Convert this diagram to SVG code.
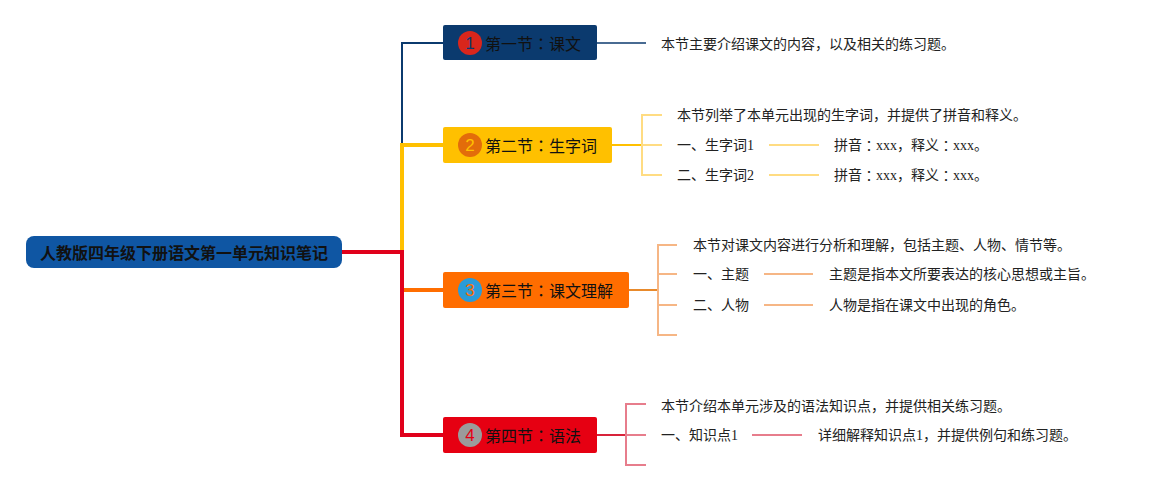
<svg xmlns="http://www.w3.org/2000/svg" width="1155" height="490" viewBox="0 0 1155 490">
<style>
.t{font-family:"Liberation Serif","Noto Sans CJK SC",serif;font-size:14px;fill:#222;dominant-baseline:central}
.n{font-family:"Noto Sans CJK SC",sans-serif;font-size:16px;fill:#111;dominant-baseline:central}
.num{font-family:"Liberation Sans",sans-serif;font-size:17px;text-anchor:middle;dominant-baseline:central}
.root{font-family:"Noto Sans CJK SC",sans-serif;font-size:16px;font-weight:bold;fill:#111;dominant-baseline:central}
.col{font-family:"Noto Sans CJK TC",sans-serif}
</style>
<rect width="1155" height="490" fill="#fff"/>
<g id="connectors">
<polyline points="402,252 402,43 443,43" stroke="#0b3a6e" stroke-width="2" fill="none"/>
<polyline points="402,252 402,145 443,145" stroke="#ffc000" stroke-width="4" fill="none"/>
<polyline points="402,252 402,290 443,290" stroke="#ff6d00" stroke-width="4" fill="none"/>
<polyline points="342,252 402,252 402,435 443,435" stroke="#e0001b" stroke-width="4" fill="none"/>
<line x1="597" y1="43" x2="646" y2="43" stroke="#0b3a6e" stroke-width="1.5"/>
<line x1="612" y1="145" x2="642" y2="145" stroke="#ffc000" stroke-width="2"/>
<g stroke="#ffdc82" stroke-width="2" fill="none">
<polyline points="662,115 642,115 642,175 662,175"/>
<line x1="642" y1="145" x2="662" y2="145"/>
<line x1="769" y1="145" x2="819" y2="145"/>
<line x1="769" y1="175" x2="819" y2="175"/>
</g>
<line x1="628" y1="290" x2="658" y2="290" stroke="#e88a2c" stroke-width="2"/>
<g stroke="#f6b685" stroke-width="2" fill="none">
<polyline points="677,245 658,245 658,335 677,335"/>
<line x1="658" y1="274" x2="677" y2="274"/>
<line x1="658" y1="305" x2="677" y2="305"/>
<line x1="764" y1="274" x2="813" y2="274"/>
<line x1="764" y1="305" x2="813" y2="305"/>
</g>
<line x1="596" y1="435" x2="626" y2="435" stroke="#d8233a" stroke-width="2"/>
<g stroke="#e77d8c" stroke-width="2" fill="none">
<polyline points="646,404 626,404 626,465 646,465"/>
<line x1="626" y1="435" x2="646" y2="435"/>
<line x1="752" y1="435" x2="802" y2="435"/>
</g>
</g>
<g id="root">
<rect x="26" y="236" width="316" height="32" rx="8" fill="#0f56a3"/>
<text class="root" x="184" y="252" text-anchor="middle">人教版四年级下册语文第一单元知识笔记</text>
</g>
<g id="node1">
<rect x="443" y="25" width="154" height="35" rx="2" fill="#0b3a6e"/>
<circle cx="470" cy="43" r="12" fill="#d9261c"/>
<text class="num" x="470" y="43" fill="#0b3a6e">1</text>
<text class="n" x="485" y="43">第一节<tspan class="col">：</tspan>课文</text>
</g>
<g id="node1-text"><text class="t" x="661" y="44">本节主要介绍课文的内容，以及相关的练习题。</text></g>
<g id="node2">
<rect x="443" y="127" width="169" height="36" rx="2" fill="#ffc000"/>
<circle cx="470" cy="145" r="12" fill="#e36c0a"/>
<text class="num" x="470" y="145" fill="#ffc000">2</text>
<text class="n" x="485" y="145">第二节<tspan class="col">：</tspan>生字词</text>
</g>
<g id="node2-children">
<text class="t" x="677" y="115">本节列举了本单元出现的生字词，并提供了拼音和释义。</text>
<text class="t" x="677" y="145">一、生字词1</text>
<text class="t" x="677" y="175">二、生字词2</text>
<text class="t" x="834" y="145">拼音<tspan class="col">：</tspan>xxx，释义<tspan class="col">：</tspan>xxx。</text>
<text class="t" x="834" y="175">拼音<tspan class="col">：</tspan>xxx，释义<tspan class="col">：</tspan>xxx。</text>
</g>
<g id="node3">
<rect x="443" y="272" width="186" height="36" rx="2" fill="#ff6d00"/>
<circle cx="470" cy="290" r="12" fill="#2a9bd8"/>
<text class="num" x="470" y="290" fill="#ff6d00">3</text>
<text class="n" x="485" y="290">第三节<tspan class="col">：</tspan>课文理解</text>
</g>
<g id="node3-children">
<text class="t" x="693" y="245">本节对课文内容进行分析和理解，包括主题、人物、情节等。</text>
<text class="t" x="693" y="274">一、主题</text>
<text class="t" x="693" y="305">二、人物</text>
<text class="t" x="829" y="274">主题是指本文所要表达的核心思想或主旨。</text>
<text class="t" x="829" y="305">人物是指在课文中出现的角色。</text>
</g>
<g id="node4">
<rect x="443" y="417" width="154" height="36" rx="2" fill="#e60012"/>
<circle cx="470" cy="435" r="12" fill="#9b9b9b"/>
<text class="num" x="470" y="435" fill="#e60012">4</text>
<text class="n" x="485" y="435">第四节<tspan class="col">：</tspan>语法</text>
</g>
<g id="node4-children">
<text class="t" x="661" y="406">本节介绍本单元涉及的语法知识点，并提供相关练习题。</text>
<text class="t" x="661" y="435">一、知识点1</text>
<text class="t" x="818" y="435">详细解释知识点1，并提供例句和练习题。</text>
</g>
</svg>
